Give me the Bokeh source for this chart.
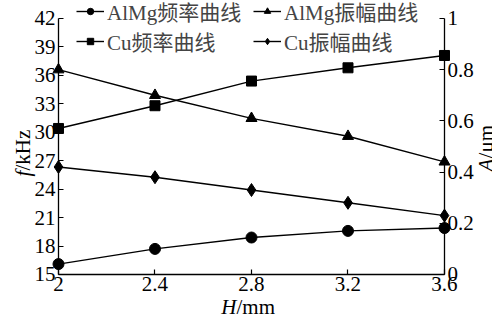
from bokeh.plotting import figure
from bokeh.models import (Range1d, LinearAxis, FixedTicker, CustomJSTickFormatter,
                          Legend, LegendItem, Label, ColumnDataSource)
from bokeh.embed import file_html
from bokeh.resources import INLINE
import math

H = [2, 2.4, 2.8, 3.2, 3.6]
almg_freq = [16.1, 17.7, 18.9, 19.6, 19.9]
cu_freq = [30.4, 32.8, 35.4, 36.8, 38.1]
almg_amp = [0.80, 0.70, 0.61, 0.54, 0.44]
cu_amp = [0.42, 0.38, 0.33, 0.28, 0.23]

x_ticks = [2, 2.4, 2.8, 3.2, 3.6]
f_ticks = [15, 18, 21, 24, 27, 30, 33, 36, 39, 42]
a_ticks = [0, 0.2, 0.4, 0.6, 0.8, 1]

labels = ["AlMg频率曲线", "Cu频率曲线", "AlMg振幅曲线", "Cu振幅曲线"]

FONT = "Liberation Serif, Noto Sans CJK SC"
FS = "21px"

# The frame covers the whole canvas; the axes are drawn at fixed data locations
# and bounded, so every text can sit inside the frame without being clipped.
p = figure(width=492, height=314, output_backend="svg", toolbar_location=None,
           x_range=Range1d(1.7596, 3.799), y_range=Range1d(10.781, 43.898),
           min_border=0)
p.extra_y_ranges = {"amp": Range1d(-0.15625, 1.0703)}
p.outline_line_color = None
p.xgrid.visible = False
p.ygrid.visible = False

fmt = CustomJSTickFormatter(code="return String(Math.round(tick*100)/100);")

p.xaxis.ticker = FixedTicker(ticks=x_ticks)
p.yaxis.ticker = FixedTicker(ticks=f_ticks)
p.xaxis.formatter = fmt
p.yaxis.formatter = fmt
p.xaxis.bounds = (2, 3.6)
p.xaxis.fixed_location = 15
p.yaxis.bounds = (15, 42)
p.yaxis.fixed_location = 2
ra = LinearAxis(y_range_name="amp", ticker=FixedTicker(ticks=a_ticks), formatter=fmt,
                bounds=(0, 1), fixed_location=3.6)
p.add_layout(ra, "right")

for ax in [p.xaxis[0], p.yaxis[0], ra]:
    ax.major_tick_in = 5
    ax.major_tick_out = 0
    ax.minor_tick_line_color = None
    ax.axis_line_color = "black"
    ax.axis_line_width = 1.3
    ax.major_tick_line_color = "black"
    ax.major_tick_line_width = 1.2
    ax.major_label_text_font = FONT
    ax.major_label_text_font_size = FS
    ax.major_label_text_color = "black"
    ax.major_label_standoff = 3

src = ColumnDataSource(dict(H=H, af=almg_freq, cf=cu_freq, aa=almg_amp, ca=cu_amp))

LW = 1.4
r1l = p.line("H", "af", source=src, line_color="black", line_width=LW)
r1m = p.scatter("H", "af", source=src, marker="circle", size=11, color="black")
r2l = p.line("H", "cf", source=src, line_color="black", line_width=LW)
r2m = p.scatter("H", "cf", source=src, marker="square", size=10, color="black")
r3l = p.line("H", "aa", source=src, line_color="black", line_width=LW, y_range_name="amp")
r3m = p.scatter("H", "aa", source=src, marker="triangle", size=11, color="black", y_range_name="amp")
r4l = p.line("H", "ca", source=src, line_color="black", line_width=LW, y_range_name="amp")
r4m = p.scatter("H", "ca", source=src, marker="diamond", size=13, color="black", y_range_name="amp")

items = [
    LegendItem(label=labels[0], renderers=[r1l, r1m]),
    LegendItem(label=labels[1], renderers=[r2l, r2m]),
    LegendItem(label=labels[2], renderers=[r3l, r3m]),
    LegendItem(label=labels[3], renderers=[r4l, r4m]),
]
leg = Legend(items=items, ncols=2, location=(76, 258),
             label_text_font=FONT, label_text_font_size=FS,
             glyph_width=28, glyph_height=16, label_height=16, label_width=146,
             label_standoff=3, spacing=-2, padding=0, margin=0, border_line_color=None,
             background_fill_alpha=0)
p.add_layout(leg, "center")

lab_kw = dict(text_font=FONT, text_font_size=FS, text_color="black",
              text_baseline="alphabetic")
# x-axis label: H/mm
p.add_layout(Label(x=2.738, y=11.55, text="H", text_align="right",
                   text_font_style="italic", **lab_kw))
p.add_layout(Label(x=2.738, y=11.55, text="/mm", text_align="left", **lab_kw))
# left axis label: f/kHz
p.add_layout(Label(x=1.851, y=25.34, text="f", angle=math.pi / 2, text_align="left",
                   text_font_style="italic", **lab_kw))
p.add_layout(Label(x=1.851, y=25.97, text="/kHz", angle=math.pi / 2, text_align="left",
                   **lab_kw))
# right axis label: A/μm
p.add_layout(Label(x=3.772, y=25.86, text="A", angle=math.pi / 2, text_align="left",
                   text_font_style="italic", **lab_kw))
p.add_layout(Label(x=3.772, y=27.24, text="/μm", angle=math.pi / 2, text_align="left",
                   **lab_kw))

open("out.html", "w").write(file_html(p, INLINE))
